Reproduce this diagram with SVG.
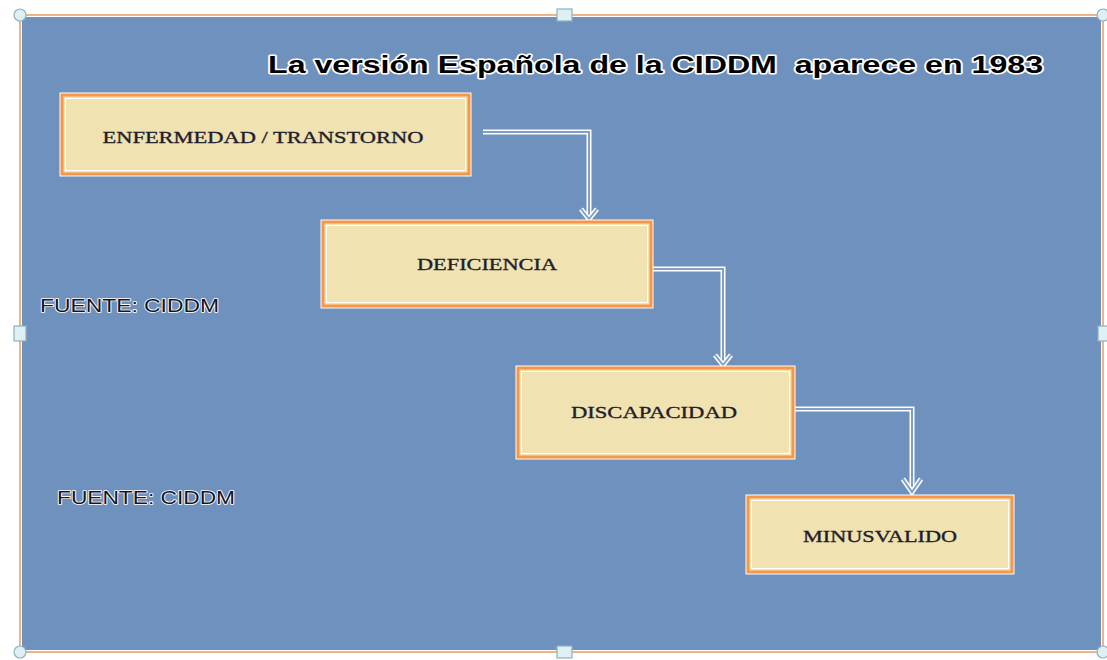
<svg xmlns="http://www.w3.org/2000/svg" width="1107" height="660" viewBox="0 0 1107 660">
<style>
.box-halo{fill:none;stroke:#ffffff;stroke-width:5}
.box{fill:#F0E2B1;stroke:#F79646;stroke-width:3}
.box-in{fill:none;stroke:#ffffff;stroke-width:1}
.lbl{font-family:"Liberation Serif","Times New Roman",serif;font-size:17px;fill:#1e1e2c;text-anchor:middle;stroke:#1e1e2c;stroke-width:0.35}
.title{font-family:"Liberation Sans",Arial,sans-serif;font-weight:bold;font-size:24px;fill:#000000;stroke:#ffffff;stroke-width:3;paint-order:stroke;stroke-linejoin:round}
.src{font-family:"Liberation Sans",Arial,sans-serif;font-size:19px;fill:#15151f;stroke:#ffffff;stroke-width:1.6;paint-order:stroke;stroke-linejoin:round}
.c-out{fill:none;stroke:#ffffff;stroke-width:5}
.c-in{fill:none;stroke:#7f9fca;stroke-width:2}
.h{fill:#dff0f5;stroke:#8fb0bf;stroke-width:1.2}
</style>
<rect x="0" y="0" width="1107" height="660" fill="#ffffff"/>
<g id="frame">
<rect x="20" y="15" width="1083" height="637" fill="#6F91BD" stroke="#ffffff" stroke-width="4"/>
<rect x="20" y="15" width="1083" height="637" fill="none" stroke="#E8A36B" stroke-width="1.6"/>
<circle class="h" cx="20" cy="15" r="6"/>
<circle class="h" cx="1103" cy="15" r="6"/>
<circle class="h" cx="20" cy="652" r="6"/>
<circle class="h" cx="1103" cy="652" r="6"/>
<rect class="h" x="557" y="9" width="15" height="12"/>
<rect class="h" x="557" y="646" width="15" height="12"/>
<rect class="h" x="14" y="326" width="12" height="15"/>
<rect class="h" x="1098" y="326" width="12" height="15"/>
</g>
<text id="title" class="title" x="268" y="73" textLength="775" lengthAdjust="spacingAndGlyphs" xml:space="preserve">La versión Española de la CIDDM  aparece en 1983</text>
<text id="fuente1" class="src" x="40" y="312" textLength="179" lengthAdjust="spacingAndGlyphs">FUENTE: CIDDM</text>
<text id="fuente2" class="src" x="57" y="504" textLength="178" lengthAdjust="spacingAndGlyphs">FUENTE: CIDDM</text>
<g id="connectors">
<path class="c-out" d="M483 132 H589 V218"/>
<path class="c-in" d="M483 132 H589 V218"/>
<path class="c-out" d="M581 209 L589 219 L597 209"/>
<path class="c-in" d="M581 209 L589 219 L597 209"/>
<path class="c-out" d="M651 269 H723 V364"/>
<path class="c-in" d="M651 269 H723 V364"/>
<path class="c-out" d="M715 355 L723 365 L731 355"/>
<path class="c-in" d="M715 355 L723 365 L731 355"/>
<path class="c-out" d="M793 409 H912 V491"/>
<path class="c-in" d="M793 409 H912 V491"/>
<path class="c-out" d="M903 479 L912 492 L921 479"/>
<path class="c-in" d="M903 479 L912 492 L921 479"/>
</g>
<g id="enfermedad">
<rect class="box-halo" x="62" y="95" width="407" height="79"/>
<rect class="box" x="62" y="95" width="407" height="79"/>
<rect class="box-in" x="65.5" y="98.5" width="400" height="72"/>
<text class="lbl" x="263" y="143" textLength="321" lengthAdjust="spacingAndGlyphs">ENFERMEDAD / TRANSTORNO</text>
</g>
<g id="deficiencia">
<rect class="box-halo" x="323" y="222" width="328" height="84"/>
<rect class="box" x="323" y="222" width="328" height="84"/>
<rect class="box-in" x="326.5" y="225.5" width="321" height="77"/>
<text class="lbl" x="487" y="270" textLength="140" lengthAdjust="spacingAndGlyphs">DEFICIENCIA</text>
</g>
<g id="discapacidad">
<rect class="box-halo" x="518" y="368" width="275" height="89"/>
<rect class="box" x="518" y="368" width="275" height="89"/>
<rect class="box-in" x="521.5" y="371.5" width="268" height="82"/>
<text class="lbl" x="654" y="418" textLength="166" lengthAdjust="spacingAndGlyphs">DISCAPACIDAD</text>
</g>
<g id="minusvalido">
<rect class="box-halo" x="748" y="497" width="264" height="75"/>
<rect class="box" x="748" y="497" width="264" height="75"/>
<rect class="box-in" x="751.5" y="500.5" width="257" height="68"/>
<text class="lbl" x="880" y="542" textLength="154" lengthAdjust="spacingAndGlyphs">MINUSVALIDO</text>
</g>
</svg>
